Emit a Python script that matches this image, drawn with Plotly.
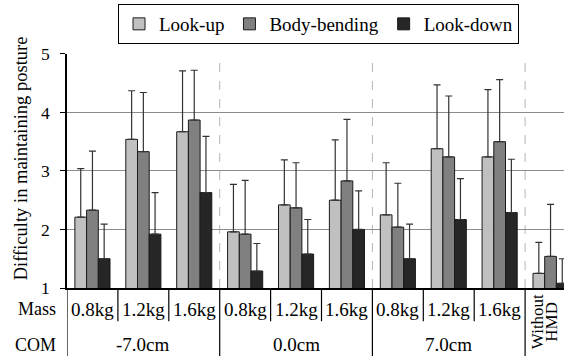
import plotly.graph_objects as go

# ---------------- data ----------------
categories = ["-7.0cm|0.8kg", "-7.0cm|1.2kg", "-7.0cm|1.6kg",
              "0.0cm|0.8kg", "0.0cm|1.2kg", "0.0cm|1.6kg",
              "7.0cm|0.8kg", "7.0cm|1.2kg", "7.0cm|1.6kg",
              "Without HMD"]
mass_labels = ["0.8kg", "1.2kg", "1.6kg", "0.8kg", "1.2kg", "1.6kg",
               "0.8kg", "1.2kg", "1.6kg"]
com_labels = ["-7.0cm", "0.0cm", "7.0cm"]
no_hmd_lines = ["Without", "HMD"]

lookup = [2.21, 3.54, 3.67, 1.96, 2.42, 2.50, 2.25, 3.38, 3.24, 1.25]
lookup_sd = [0.83, 0.83, 1.04, 0.81, 0.77, 1.03, 0.89, 1.09, 1.15, 0.53]
body = [2.33, 3.33, 3.87, 1.92, 2.37, 2.83, 2.04, 3.24, 3.50, 1.54]
body_sd = [1.01, 1.01, 0.85, 0.92, 0.77, 1.05, 0.75, 1.04, 1.06, 0.89]
down = [1.50, 1.92, 2.63, 1.29, 1.58, 2.00, 1.50, 2.17, 2.29, 1.08]
down_sd = [0.59, 0.71, 0.96, 0.47, 0.59, 0.66, 0.59, 0.70, 0.91, 0.42]

series = [("Look-up", lookup, lookup_sd, "#c0c0c0"),
          ("Body-bending", body, body_sd, "#808080"),
          ("Look-down", down, down_sd, "#262626")]

FONT = "Liberation Serif, Times New Roman, serif"
W, H = 564, 356
ML, MT, MB = 67, 48, 68
plot_h = H - MT - MB
plot_w = W - ML
CAT_PX = 50.9

def py(px_y):
    """pixel y (from top of page) -> paper y"""
    return (H - MB - px_y) / plot_h

def px(px_x):
    """pixel x (from left of page) -> paper x"""
    return (px_x - ML) / plot_w

fig = go.Figure()
idx = list(range(len(categories)))
for name, vals, sd, col in series:
    fig.add_trace(go.Bar(
        x=idx, y=vals, name=name,
        marker=dict(color=col, line=dict(color="#1a1a1a", width=1)),
        error_y=dict(type="data", symmetric=False, array=sd,
                     arrayminus=[0] * len(sd),
                     color="#333333", thickness=1.2, width=3.5),
    ))

shapes = []
for b in [2.5, 5.5, 8.5]:
    shapes.append(dict(type="line", xref="x", yref="y", x0=b, x1=b, y0=1, y1=5,
                       line=dict(color="#b4b4b4", width=1, dash="dash"), layer="below"))
for b in [-0.5, 2.5, 5.5, 8.5]:
    shapes.append(dict(type="line", xref="x", yref="paper", x0=b, x1=b,
                       y0=0, y1=py(H + 5), line=dict(color="black", width=1.2)))
for b in [0.5, 1.5, 3.5, 4.5, 6.5, 7.5]:
    shapes.append(dict(type="line", xref="x", yref="paper", x0=b, x1=b,
                       y0=0, y1=py(322), line=dict(color="black", width=1.2)))

tf = dict(family=FONT, size=18, color="black")
lf = dict(family=FONT, size=19, color="black")
ann = []
for i, m in enumerate(mass_labels):
    ann.append(dict(x=i, y=py(310), xref="x", yref="paper", text=m,
                    showarrow=False, xanchor="center", yanchor="middle", font=lf))
for j, c in enumerate(com_labels):
    ann.append(dict(x=3 * j + 1, y=py(346), xref="x", yref="paper", text=c,
                    showarrow=False, xanchor="center", yanchor="middle", font=lf))
ann.append(dict(x=px(58), y=py(310), xref="paper", yref="paper", text="Mass",
                showarrow=False, xanchor="right", yanchor="middle", font=tf))
ann.append(dict(x=px(58), y=py(346), xref="paper", yref="paper", text="COM",
                showarrow=False, xanchor="right", yanchor="middle", font=tf))
# "Without HMD" rotated, one annotation per line so it fits inside the page
for k, (line, dx) in enumerate(zip(no_hmd_lines, [-13.5, 1.0])):
    ann.append(dict(x=9 + dx / CAT_PX, y=py(323), xref="x", yref="paper", text=line,
                    showarrow=False, xanchor="center", yanchor="middle", textangle=-90,
                    font=dict(family=FONT, size=17, color="black")))
ann.append(dict(x=px(21), y=py(155), xref="paper", yref="paper",
                text="Difficulty in maintaining posture",
                showarrow=False, xanchor="center", yanchor="middle", textangle=-90,
                font=dict(family=FONT, size=18.5, color="black")))

fig.update_layout(
    width=W, height=H,
    margin=dict(l=ML, r=0, t=MT, b=MB, pad=0),
    paper_bgcolor="white", plot_bgcolor="white",
    barmode="group", bargap=0.31, bargroupgap=0,
    font=tf,
    showlegend=True,
    legend=dict(orientation="h", xref="container", yref="container",
                x=318.5 / W, xanchor="center", y=1 - 4 / H, yanchor="top",
                bordercolor="black", borderwidth=1, bgcolor="white",
                font=lf, itemclick=False, itemdoubleclick=False),
    xaxis=dict(type="linear", range=[-0.5, -0.5 + plot_w / CAT_PX],
               showticklabels=False, ticks="", showgrid=False, zeroline=False,
               showline=True, linecolor="black", linewidth=1.5),
    yaxis=dict(range=[1, 5], dtick=1, tick0=1, ticks="outside", ticklen=5,
               tickcolor="black", tickwidth=1, ticklabelstandoff=7,
               showgrid=True, gridcolor="#8c8c8c", gridwidth=1, zeroline=False,
               showline=True, linecolor="black", linewidth=1.5,
               tickfont=dict(family=FONT, size=17.5, color="black")),
    shapes=shapes, annotations=ann,
)

fig.write_html("out.html")
